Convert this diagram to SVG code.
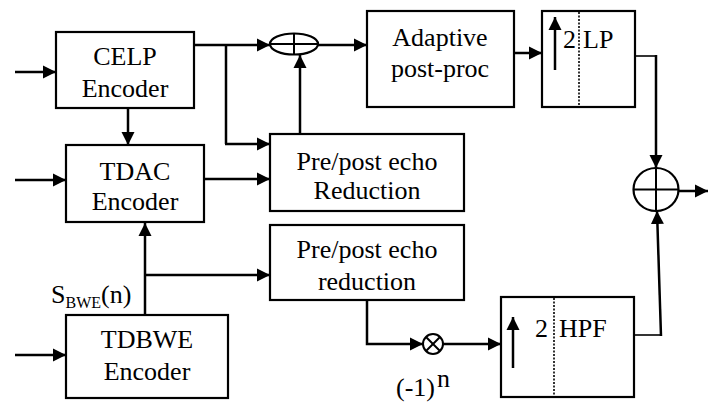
<svg xmlns="http://www.w3.org/2000/svg" width="717" height="403" viewBox="0 0 717 403" font-family="Liberation Serif, Tinos, Noto Serif, FreeSerif, DejaVu Serif, serif">
<defs>
<marker id="ah" markerUnits="userSpaceOnUse" markerWidth="14" markerHeight="14" viewBox="0 0 14 14" refX="13" refY="7" orient="auto">
<path d="M0,0.5 L13,7 L0,13.5 z" fill="#000"/>
</marker>
<style>
text{font-family:'Liberation Serif',Tinos,'Noto Serif',FreeSerif,'DejaVu Serif',serif}
.box{fill:#fff;stroke:#000;stroke-width:2.2}
.t{font-size:26px;fill:#000;text-anchor:middle}
.tl{font-size:26px;fill:#000}
.w{fill:none;stroke:#000;stroke-width:2.5}
.a{fill:none;stroke:#000;stroke-width:2.5;marker-end:url(#ah)}
.dot{stroke:#000;stroke-width:1.6;stroke-dasharray:2,1.5}
.thin{fill:none;stroke:#000;stroke-width:1.6}
</style>
</defs>
<rect width="717" height="403" fill="#fff"/>

<g id="celp">
<rect class="box" x="56" y="32" width="138" height="76"/>
<text class="t" x="125" y="65">CELP</text>
<text class="t" x="125" y="97">Encoder</text>
</g>

<g id="tdac">
<rect class="box" x="66" y="145" width="138" height="77"/>
<text class="t" x="135" y="180">TDAC</text>
<text class="t" x="135" y="210">Encoder</text>
</g>

<g id="tdbwe">
<rect class="box" x="66" y="315" width="162" height="83"/>
<text class="t" x="147" y="348">TDBWE</text>
<text class="t" x="147" y="380">Encoder</text>
</g>

<g id="sbwe-label">
<text class="tl" x="51" y="303">S<tspan font-size="16" dy="5">BWE</tspan><tspan dy="-5">(n)</tspan></text>
</g>

<g id="prepost1">
<rect class="box" x="270" y="134" width="194" height="77"/>
<text class="t" x="367" y="170">Pre/post echo</text>
<text class="t" x="367" y="199">Reduction</text>
</g>

<g id="prepost2">
<rect class="box" x="270" y="225" width="194" height="75"/>
<text class="t" x="367" y="258">Pre/post echo</text>
<text class="t" x="367" y="290">reduction</text>
</g>

<g id="sum1">
<ellipse cx="294" cy="44" rx="24" ry="10.5" fill="#fff" stroke="#000" stroke-width="2.2"/>
<line x1="270" y1="44" x2="318" y2="44" stroke="#000" stroke-width="2"/>
<line x1="294" y1="33.5" x2="294" y2="54.5" stroke="#000" stroke-width="2"/>
</g>

<g id="adaptive">
<rect class="box" x="367" y="11" width="147" height="96"/>
<text class="t" x="440" y="46">Adaptive</text>
<text class="t" x="440" y="77">post-proc</text>
</g>

<g id="lp">
<rect class="box" x="542" y="11" width="93" height="96"/>
<line class="dot" x1="579" y1="12" x2="579" y2="106"/>
<line class="a" x1="555" y1="70" x2="555" y2="17"/>
<text class="tl" x="563" y="48">2</text>
<text class="tl" x="583" y="48">LP</text>
</g>

<g id="hpf">
<rect class="box" x="501" y="297" width="133" height="100"/>
<line class="dot" x1="554" y1="298" x2="554" y2="396"/>
<line class="a" x1="513" y1="368" x2="513" y2="317"/>
<text class="tl" x="535" y="337" font-size="32">2</text>
<text class="tl" x="559" y="337">HPF</text>
</g>

<g id="mult">
<circle cx="433" cy="344" r="10" fill="#fff" stroke="#000" stroke-width="2"/>
<line x1="426" y1="337" x2="440" y2="351" stroke="#000" stroke-width="2"/>
<line x1="440" y1="337" x2="426" y2="351" stroke="#000" stroke-width="2"/>
</g>

<g id="mult-label">
<text class="tl" x="396" y="396" font-size="16">(-1)</text>
<text class="tl" x="437" y="387" font-size="11">n</text>
</g>

<g id="sum2">
<ellipse cx="656" cy="189.5" rx="22.5" ry="21.5" fill="#fff" stroke="#000" stroke-width="2.2"/>
<line x1="633.5" y1="189.5" x2="678.5" y2="189.5" stroke="#000" stroke-width="2"/>
<line x1="656" y1="168" x2="656" y2="211" stroke="#000" stroke-width="2"/>
</g>

<g id="connectors">
<line class="a" x1="15" y1="72" x2="56" y2="72"/>
<line class="a" x1="15" y1="180" x2="66" y2="180"/>
<line class="a" x1="15" y1="355" x2="66" y2="355"/>
<line class="a" x1="194" y1="45" x2="270" y2="45"/>
<polyline class="w" points="226,45 226,144"/>
<line class="a" x1="225" y1="144" x2="270" y2="144"/>
<line class="a" x1="128" y1="108" x2="128" y2="145"/>
<line class="a" x1="204" y1="179" x2="270" y2="179"/>
<line class="a" x1="300" y1="134" x2="300" y2="55"/>
<line class="a" x1="318" y1="45" x2="367" y2="45"/>
<line class="a" x1="514" y1="53" x2="542" y2="53"/>
<line class="a" x1="145" y1="315" x2="145" y2="223"/>
<line class="a" x1="145" y1="275" x2="270" y2="275"/>
<polyline class="a" points="367,300 367,344 423,344"/>
<line class="a" x1="443" y1="344" x2="501" y2="344"/>
<polyline class="thin" points="635,56 657,56"/>
<line class="a" x1="656" y1="55" x2="656" y2="168"/>
<polyline class="thin" points="634,335 661,335"/>
<line class="a" x1="661" y1="336" x2="657" y2="211"/>
<line class="a" x1="678.5" y1="191" x2="708" y2="191"/>
</g>
</svg>
